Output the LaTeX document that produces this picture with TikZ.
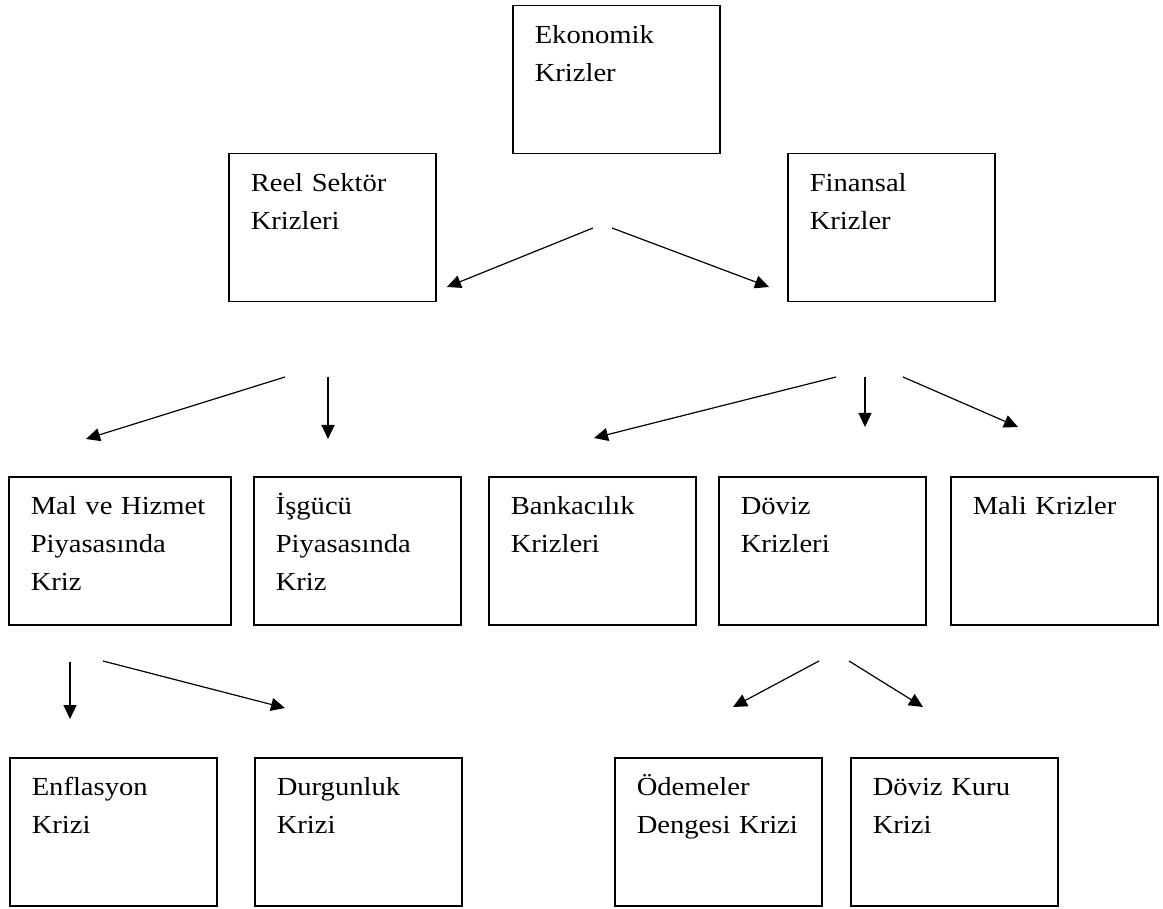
\documentclass[tikz,border=0pt]{standalone}
\usepackage{fontspec}
\setmainfont{Liberation Serif}[FakeStretch=1.1]
\usepackage{tikz}
\usetikzlibrary{arrows.meta,positioning}

\begin{document}
\begin{tikzpicture}[x=0.5pt,y=-0.5pt,
    kutu/.style={draw, line width=0.75pt, anchor=north west, align=left,
        text width=#1, inner xsep=11pt, inner ysep=0pt,
        text height=19pt, text depth=55pt,
        font=\fontsize{13pt}{19pt}\selectfont},
    kutu/.default=81.5pt,
    ok/.style={-{Triangle[length=7pt,width=6.5pt]}, line width=0.6pt},
    ]
\useasboundingbox (0,0) rectangle (1163,909);

\node[kutu] (ek) at (512,5) {Ekonomik\\Krizler};

\node[kutu] (reel) at (228,153) {Reel Sektör\\Krizleri};
\node[kutu] (fin) at (787,153) {Finansal\\Krizler};

\node[kutu=89pt] (mal) at (8,476) {Mal ve Hizmet\\Piyasasında\\Kriz};
\node[kutu] (isg) at (253,476) {İşgücü\\Piyasasında\\Kriz};
\node[kutu] (bank) at (488,476) {Bankacılık\\Krizleri};
\node[kutu] (dov) at (718,476) {Döviz\\Krizleri};
\node[kutu] (mali) at (950,476) {Mali Krizler};

\node[kutu] (enf) at (9,757) {Enflasyon\\Krizi};
\node[kutu] (durg) at (254,757) {Durgunluk\\Krizi};
\node[kutu] (odm) at (614,757) {Ödemeler\\Dengesi Krizi};
\node[kutu] (kur) at (850,757) {Döviz Kuru\\Krizi};

% ok uclari
\coordinate (ek-1) at (593,228);   \coordinate (reel-u) at (447,287);
\coordinate (ek-2) at (612,228);   \coordinate (fin-u) at (769,287);
\coordinate (reel-1) at (285,377); \coordinate (mal-u) at (86,439);
\coordinate (reel-2) at (328,377); \coordinate (isg-u) at (328,439);
\coordinate (fin-1) at (836,377);  \coordinate (bank-u) at (594,438);
\coordinate (fin-2) at (865,377);  \coordinate (dov-u) at (865,427);
\coordinate (fin-3) at (903,377);  \coordinate (mali-u) at (1018,427);
\coordinate (mal-1) at (70,662);   \coordinate (enf-u) at (70,719);
\coordinate (mal-2) at (103,661);  \coordinate (durg-u) at (285,708);
\coordinate (dov-1) at (819,661);  \coordinate (odm-u) at (733,707);
\coordinate (dov-2) at (849,661);  \coordinate (kur-u) at (923,707);

\foreach \a/\b in {ek-1/reel-u, ek-2/fin-u, reel-1/mal-u, reel-2/isg-u,
    fin-1/bank-u, fin-2/dov-u, fin-3/mali-u, mal-1/enf-u, mal-2/durg-u,
    dov-1/odm-u, dov-2/kur-u}
    \draw[ok] (\a) -- (\b);

\end{tikzpicture}
\end{document}
